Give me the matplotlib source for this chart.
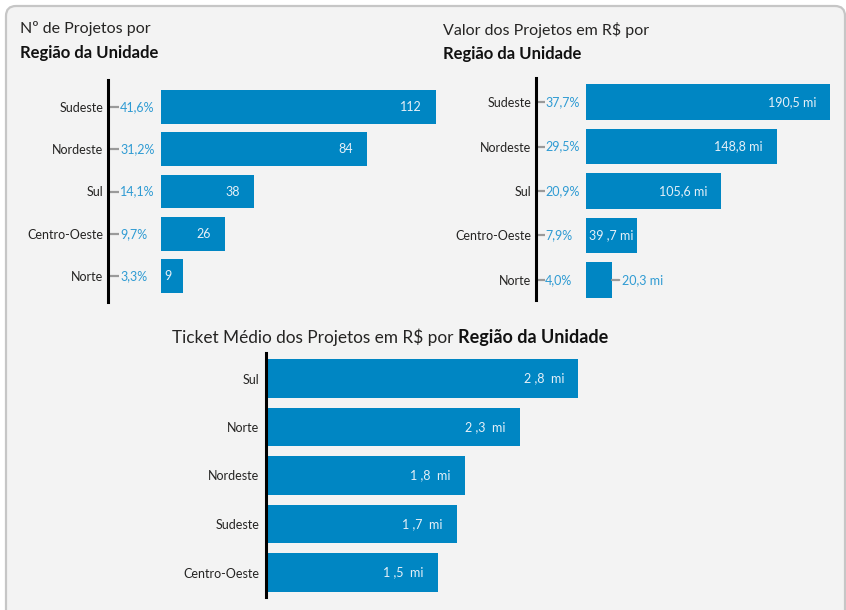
import matplotlib
matplotlib.use("Agg")
import matplotlib.pyplot as plt
from matplotlib.patches import FancyBboxPatch

plt.rcParams['font.family'] = ['Lato', 'DejaVu Sans']

# ---------------- data ----------------
regions1 = ["Sudeste", "Nordeste", "Sul", "Centro-Oeste", "Norte"]
counts1 = [112, 84, 38, 26, 9]
count_labels1 = ["112", "84", "38", "26", "9"]
pct1 = ["41,6%", "31,2%", "14,1%", "9,7%", "3,3%"]

regions2 = ["Sudeste", "Nordeste", "Sul", "Centro-Oeste", "Norte"]
values2 = [190.5, 148.8, 105.6, 39.7, 20.3]
value_labels2 = ["190,5 mi", "148,8 mi", "105,6 mi", "39 ,7 mi", "20,3 mi"]
pct2 = ["37,7%", "29,5%", "20,9%", "7,9%", "4,0%"]

regions3 = ["Sul", "Norte", "Nordeste", "Sudeste", "Centro-Oeste"]
ticket3 = [2.78, 2.26, 1.77, 1.70, 1.53]
ticket_labels3 = ["2 ,8  mi", "2 ,3  mi", "1 ,8  mi", "1 ,7  mi", "1 ,5  mi"]

# ---------------- style ----------------
W, H = 846, 610
DPI = 100
BAR = "#0086c3"
PCT = "#2f9bd3"
VAL = "#e6f0f8"
TXT = "#252423"
GRAY = "#9a9a9a"
PANEL = "#f3f3f3"
FS = 9.0

fig = plt.figure(figsize=(W / DPI, H / DPI), dpi=DPI, facecolor="white")

panel = FancyBboxPatch((6, -30), 839, H - 6 + 30,
                       boxstyle="round,pad=0,rounding_size=10",
                       facecolor=PANEL, edgecolor="#c6c6c6", linewidth=1.6,
                       transform=None, zorder=-5)
fig.patches.append(panel)


def px_axes(left, top, right, bottom):
    ax = fig.add_axes([left / W, 1 - bottom / H, (right - left) / W, (bottom - top) / H])
    ax.patch.set_alpha(0)
    ax.set_zorder(2)
    return ax


def setup(ax, cats, vals, top_c, bot_c, top_px, bot_px, spine_out_px, ticks):
    n = len(cats)
    y = list(range(n))
    ax.barh(y, vals, height=0.8, color=BAR, zorder=2)
    spacing = (bot_c - top_c) / (n - 1)
    ax.set_ylim(n - 1 + (bot_px - bot_c) / spacing, -(top_c - top_px) / spacing)
    ax.set_xlim(0, max(vals))
    for s in ["top", "right", "bottom"]:
        ax.spines[s].set_visible(False)
    ax.spines["left"].set_linewidth(2.2)
    ax.spines["left"].set_color("black")
    ax.spines["left"].set_position(("outward", spine_out_px * 72 / DPI))
    ax.set_xticks([])
    ax.set_yticks(y)
    ax.set_yticklabels(cats, fontsize=FS, color=TXT)
    if ticks:
        ax.tick_params(axis="y", direction="in", length=ticks * 72 / DPI, width=1.6,
                       color=GRAY, pad=5 * 72 / DPI)
    else:
        ax.tick_params(axis="y", length=0, pad=7 * 72 / DPI)
    return y


def value_labels(ax, y, vals, labels, leader=False):
    texts = []
    for yi, v, lab in zip(y, vals, labels):
        t = ax.annotate(lab, xy=(v, yi), xytext=(-14, 0), textcoords="offset pixels",
                        ha="right", va="center", fontsize=FS, color=VAL, zorder=3)
        texts.append((t, yi, v, lab))
    fig.canvas.draw()
    r = fig.canvas.get_renderer()
    x0_px = ax.transData.transform((0, 0))[0]
    for t, yi, v, lab in texts:
        bb = t.get_window_extent(r)
        bar_w = ax.transData.transform((v, 0))[0] - x0_px
        if bb.width + 4 > bar_w and leader:
            t.remove()
            ax.annotate(lab, xy=(v, yi), xytext=(10, 0), textcoords="offset pixels",
                        ha="left", va="center", fontsize=FS, color=PCT,
                        arrowprops=dict(arrowstyle="-", color=GRAY, lw=1.6,
                                        shrinkA=0, shrinkB=0))
        elif bb.x0 < x0_px + 3:
            t.set_ha("left")
            t.xyann = (-(bar_w) + 3, 0)


def pct_labels(ax, y, pcts, offset_px):
    for yi, p in zip(y, pcts):
        ax.annotate(p, xy=(0, yi), xytext=(-offset_px, 0), textcoords="offset pixels",
                    ha="left", va="center", fontsize=FS, color=PCT)


# ---------------- chart 1 ----------------
ax1 = px_axes(161, 80, 436, 302)
y1 = setup(ax1, regions1, counts1, 107, 276, 80, 302, 53, 11)
pct_labels(ax1, y1, pct1, 41)
value_labels(ax1, y1, counts1, count_labels1)

# ---------------- chart 2 ----------------
ax2 = px_axes(586, 78, 830, 300)
y2 = setup(ax2, regions2, values2, 102, 280, 78, 300, 50, 9)
pct_labels(ax2, y2, pct2, 41)
value_labels(ax2, y2, values2, value_labels2, leader=True)

# ---------------- chart 3 ----------------
ax3 = px_axes(266, 353, 578, 597)
y3 = setup(ax3, regions3, ticket3, 378.5, 572.5, 353, 597, 0, 0)
value_labels(ax3, y3, ticket3, ticket_labels3)

# ---------------- titles ----------------
TS = 11.5
TB = 12.0
fig.text(20 / W, 1 - 28 / H, "Nº de Projetos por", fontsize=TS, color=TXT, va="center", ha="left")
fig.text(20 / W, 1 - 53 / H, "Região da Unidade", fontsize=TB, color="#111111",
         fontweight="bold", va="center", ha="left")
fig.text(443 / W, 1 - 30 / H, "Valor dos Projetos em R$ por", fontsize=TS, color=TXT,
         va="center", ha="left")
fig.text(443 / W, 1 - 54 / H, "Região da Unidade", fontsize=TB, color="#111111",
         fontweight="bold", va="center", ha="left")

t3 = fig.text(172 / W, 1 - 337 / H, "Ticket Médio dos Projetos em R$ por ", fontsize=12.4,
              color=TXT, va="center", ha="left")
fig.canvas.draw()
bb = t3.get_window_extent(fig.canvas.get_renderer())
fig.text(bb.x1 / W, 1 - 337 / H, "Região da Unidade", fontsize=13.0, color="#111111",
         fontweight="bold", va="center", ha="left")

fig.savefig("out.png", dpi=DPI, facecolor="white")
